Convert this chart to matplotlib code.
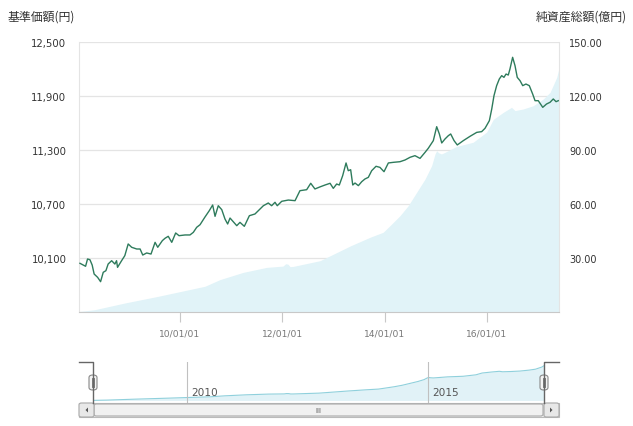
import matplotlib
matplotlib.use("Agg")
import matplotlib.pyplot as plt
import matplotlib.dates as mdates
from matplotlib.lines import Line2D
from matplotlib.patches import FancyBboxPatch, Rectangle, Polygon
import pandas as pd

# 基準価額 (NAV, yen)
nav_dates = ["2008-01-18", "2008-02-10", "2008-02-27", "2008-03-12", "2008-03-29", "2008-04-14",
             "2008-04-28", "2008-05-23", "2008-06-13", "2008-07-02", "2008-07-21", "2008-08-06",
             "2008-08-31", "2008-09-23", "2008-10-05", "2008-10-12", "2008-11-10", "2008-12-03",
             "2008-12-27", "2009-01-21", "2009-02-26", "2009-03-22", "2009-04-10", "2009-05-08",
             "2009-06-08", "2009-07-07", "2009-07-26", "2009-08-28", "2009-09-16", "2009-10-09",
             "2009-11-03", "2009-12-01", "2009-12-25", "2010-02-06", "2010-03-13", "2010-04-06",
             "2010-04-30", "2010-05-24", "2010-06-28", "2010-07-29", "2010-08-22", "2010-09-08",
             "2010-10-01", "2010-10-26", "2010-11-18", "2010-12-07", "2010-12-24", "2011-01-16",
             "2011-02-10", "2011-03-05", "2011-04-05", "2011-05-11", "2011-06-20", "2011-07-26",
             "2011-08-19", "2011-09-23", "2011-10-17", "2011-11-10", "2011-11-26", "2011-12-28",
             "2012-02-13", "2012-04-01", "2012-05-06", "2012-06-23", "2012-07-22", "2012-08-21",
             "2012-09-26", "2012-11-01", "2012-12-07", "2012-12-30", "2013-01-23", "2013-02-11",
             "2013-03-07", "2013-03-31", "2013-04-16", "2013-05-03", "2013-05-18", "2013-06-03",
             "2013-06-27", "2013-07-21", "2013-08-13", "2013-09-06", "2013-09-30", "2013-10-31",
             "2013-11-28", "2013-12-27", "2014-01-27", "2014-03-04", "2014-04-20", "2014-05-26",
             "2014-07-01", "2014-08-05", "2014-09-10", "2014-10-16", "2014-11-08", "2014-12-14",
             "2015-01-07", "2015-01-26", "2015-02-12", "2015-03-07", "2015-03-31", "2015-04-17",
             "2015-05-11", "2015-06-03", "2015-07-16", "2015-09-02", "2015-10-20", "2015-11-24",
             "2015-12-18", "2016-01-18", "2016-02-04", "2016-02-20", "2016-03-10", "2016-03-29",
             "2016-04-15", "2016-05-01", "2016-05-16", "2016-06-01", "2016-06-13", "2016-07-02",
             "2016-07-19", "2016-08-04", "2016-08-24", "2016-09-12", "2016-10-05", "2016-10-29",
             "2016-11-22", "2016-12-09", "2017-01-01", "2017-02-02", "2017-03-01", "2017-03-26",
             "2017-04-18", "2017-05-08", "2017-05-24"]
nav_values = [10041, 10022, 10008, 10089, 10081, 10022,
              9922, 9885, 9837, 9941, 9959, 10033,
              10070, 10033, 10070, 9996, 10070, 10126,
              10256, 10219, 10200, 10200, 10133, 10156,
              10144, 10274, 10219, 10293, 10319, 10341,
              10274, 10378, 10348, 10356, 10356, 10385,
              10441, 10470, 10555, 10626, 10689, 10563,
              10681, 10637, 10533, 10478, 10544, 10504,
              10459, 10496, 10452, 10570, 10589, 10644,
              10681, 10711, 10681, 10719, 10681, 10730,
              10744, 10737, 10848, 10859, 10930, 10867,
              10890, 10911, 10930, 10874, 10922, 10911,
              11015, 11156, 11070, 11081, 10911, 10933,
              10904, 10948, 10978, 10996, 11070, 11119,
              11107, 11059, 11156, 11163, 11170, 11189,
              11219, 11237, 11207, 11274, 11319, 11404,
              11559, 11478, 11378, 11422, 11459, 11478,
              11404, 11356, 11404, 11452, 11496, 11504,
              11541, 11626, 11756, 11904, 12015, 12089,
              12126, 12107, 12144, 12133, 12200, 12330,
              12237, 12107, 12070, 12015, 12033, 12015,
              11922, 11848, 11848, 11774, 11811, 11830,
              11867, 11837, 11848]

# 純資産総額 (net assets, 100 million yen)
asset_dates = ["2008-01-18", "2008-05-03", "2008-12-03", "2009-07-28", "2010-06-28", "2010-10-13",
               "2011-03-27", "2011-09-12", "2012-01-06", "2012-01-25", "2012-02-10", "2012-02-25",
               "2012-03-17", "2012-09-26", "2013-01-23", "2013-05-03", "2013-09-18", "2013-12-21",
               "2014-02-08", "2014-04-20", "2014-06-18", "2014-08-17", "2014-10-16", "2014-12-02",
               "2014-12-26", "2015-01-07", "2015-01-20", "2015-02-10", "2015-03-07", "2015-05-29",
               "2015-09-24", "2015-12-30", "2016-02-15", "2016-04-26", "2016-06-24", "2016-07-19",
               "2016-09-16", "2016-11-26", "2017-02-05", "2017-03-26", "2017-05-13", "2017-05-29"]
asset_values = [0.3, 1.3, 5.0, 8.7, 14.3, 18.0,
                22.0, 24.8, 25.5, 26.8, 26.6, 25.2,
                25.3, 28.5, 33.0, 36.8, 41.5, 44.3,
                48.0, 53.5, 59.1, 66.5, 73.9, 81.3,
                87.8, 89.6, 88.5, 87.8, 88.7, 92.0,
                94.3, 100.0, 107.0, 110.9, 113.7, 111.9,
                112.8, 114.6, 118.3, 122.0, 130.4, 135.5]

nav_ticks = [9500, 10100, 10700, 11300, 11900, 12500]
asset_ticks = [0, 30, 60, 90, 120, 150]
x_ticks = ["2010-01-01", "2012-01-01", "2014-01-01", "2016-01-01"]
nav_years = ["2010-01-01", "2015-01-01"]
nav_year_labels = ["2010", "2015"]

nav_d = pd.to_datetime(nav_dates)
asset_d = pd.to_datetime(asset_dates)
x_start = pd.Timestamp("2008-01-11")
x_end = pd.Timestamp("2017-05-29")

W, H = 633, 427
fig = plt.figure(figsize=(W / 100, H / 100), dpi=100)
cjk = ["Noto Sans CJK JP", "DejaVu Sans"]


def fx(x):
    return x / W


def fy(y):
    return 1 - y / H


# main chart
ax_a = fig.add_axes([fx(79), fy(313), fx(559) - fx(79), fy(43) - fy(313)])
ax_a.fill_between(asset_d, asset_values, 0, color="#e1f3f8", lw=0, zorder=1)
ax_a.set_ylim(0, 150)
ax_a.set_xlim(x_start, x_end)
ax_a.grid(axis="y", color="#e4e4e4", lw=0.9, zorder=0)
ax_a.set_axisbelow(True)
ax_a.set_xticks(pd.to_datetime(x_ticks))
ax_a.xaxis.set_major_formatter(mdates.DateFormatter("%y/%m/%d"))
ax_a.tick_params(axis="x", length=7, width=0.8, color="#c8c8c8", pad=5,
                 labelsize=6.6, labelcolor="#777777")
for s in ["left", "right"]:
    ax_a.spines[s].set_color("#e4e4e4")
ax_a.spines["top"].set_visible(False)
ax_a.spines["bottom"].set_color("#c8c8c8")

ax_n = ax_a.twinx()
ax_n.plot(nav_d, nav_values, color="#2e7b5c", lw=1.0, zorder=3)
ax_n.set_ylim(9500, 12500)
for s in ax_n.spines.values():
    s.set_visible(False)

# twinx moves the first axis ticks to the left, so set both sides afterwards
ax_a.yaxis.tick_right()
ax_a.set_yticks(asset_ticks)
ax_a.set_yticklabels([""] + ["%.2f" % v for v in asset_ticks[1:]])
ax_a.tick_params(axis="y", length=0, pad=7.5, labelsize=7, labelcolor="#333333")

ax_n.yaxis.tick_left()
ax_n.set_yticks(nav_ticks)
ax_n.set_yticklabels([""] + ["{:,}".format(v) for v in nav_ticks[1:]])
ax_n.tick_params(axis="y", length=0, pad=9, labelsize=7.3, labelcolor="#333333")

fig.text(fx(8), fy(17), "基準価額(円)", ha="left", va="center", fontsize=8.6,
         family=cjk, color="#333333")
fig.text(fx(627), fy(17), "純資産総額(億円)", ha="right", va="center", fontsize=8.6,
         family=cjk, color="#333333")

# navigator
ax_v = fig.add_axes([fx(93), fy(404), fx(544) - fx(93), fy(363) - fy(404)])
ax_v.fill_between(asset_d, asset_values, 0, color="#e1f2f7", lw=0)
ax_v.plot(asset_d, asset_values, color="#8fd0dc", lw=0.8)
ax_v.set_xlim(asset_d[0], asset_d[-1])
ax_v.set_ylim(-10, 150)
ax_v.set_xticks([])
ax_v.set_yticks([])
for s in ax_v.spines.values():
    s.set_visible(False)
for d, lab in zip(pd.to_datetime(nav_years), nav_year_labels):
    ax_v.axvline(d, color="#c0c0c0", lw=0.8)
    ax_v.annotate(lab, (d, 0), xycoords=("data", "axes fraction"), xytext=(3, 4),
                  textcoords="offset points", fontsize=7.6, color="#555555",
                  ha="left", va="bottom")

# navigator outline
line_kw = dict(color="#666666", lw=1.0, transform=fig.transFigure)
fig.add_artist(Line2D([fx(79), fx(93), fx(93)], [fy(363), fy(363), fy(404)], **line_kw))
fig.add_artist(Line2D([fx(559), fx(544), fx(544)], [fy(363), fy(363), fy(404)], **line_kw))

# handles
for hx in [93, 544]:
    fig.add_artist(FancyBboxPatch((fx(hx - 4), fy(391)), fx(8), fy(376) - fy(391),
                                  boxstyle="round,pad=0,rounding_size=0.006",
                                  fc="#f4f4f4", ec="#888888", lw=0.8,
                                  transform=fig.transFigure))
    for dx in [-1, 1]:
        fig.add_artist(Line2D([fx(hx + dx), fx(hx + dx)], [fy(379), fy(388)],
                              color="#666666", lw=0.6, transform=fig.transFigure))

# scrollbar
fig.add_artist(Rectangle((fx(79), fy(418)), fx(480), fy(404) - fy(418),
                         fc="#eeeeee", ec="#bbbbbb", lw=0.8, transform=fig.transFigure))
fig.add_artist(FancyBboxPatch((fx(94), fy(417)), fx(449), fy(405) - fy(417),
                              boxstyle="round,pad=0,rounding_size=0.004",
                              fc="#f1f1f1", ec="#aaaaaa", lw=0.8, transform=fig.transFigure))
fig.text(fx(318), fy(411), "III", ha="center", va="center", fontsize=5, color="#555555")
for bx in [79, 544]:
    fig.add_artist(FancyBboxPatch((fx(bx), fy(418)), fx(15), fy(404) - fy(418),
                                  boxstyle="round,pad=0,rounding_size=0.004",
                                  fc="#e8e8e8", ec="#aaaaaa", lw=0.8,
                                  transform=fig.transFigure))
fig.add_artist(Polygon([[fx(88), fy(408.5)], [fx(88), fy(413.5)], [fx(85.5), fy(411)]],
                       closed=True, fc="#555555", ec="none", transform=fig.transFigure))
fig.add_artist(Polygon([[fx(550), fy(408.5)], [fx(550), fy(413.5)], [fx(552.5), fy(411)]],
                       closed=True, fc="#555555", ec="none", transform=fig.transFigure))

fig.savefig("out.png", dpi=100, facecolor="white")
